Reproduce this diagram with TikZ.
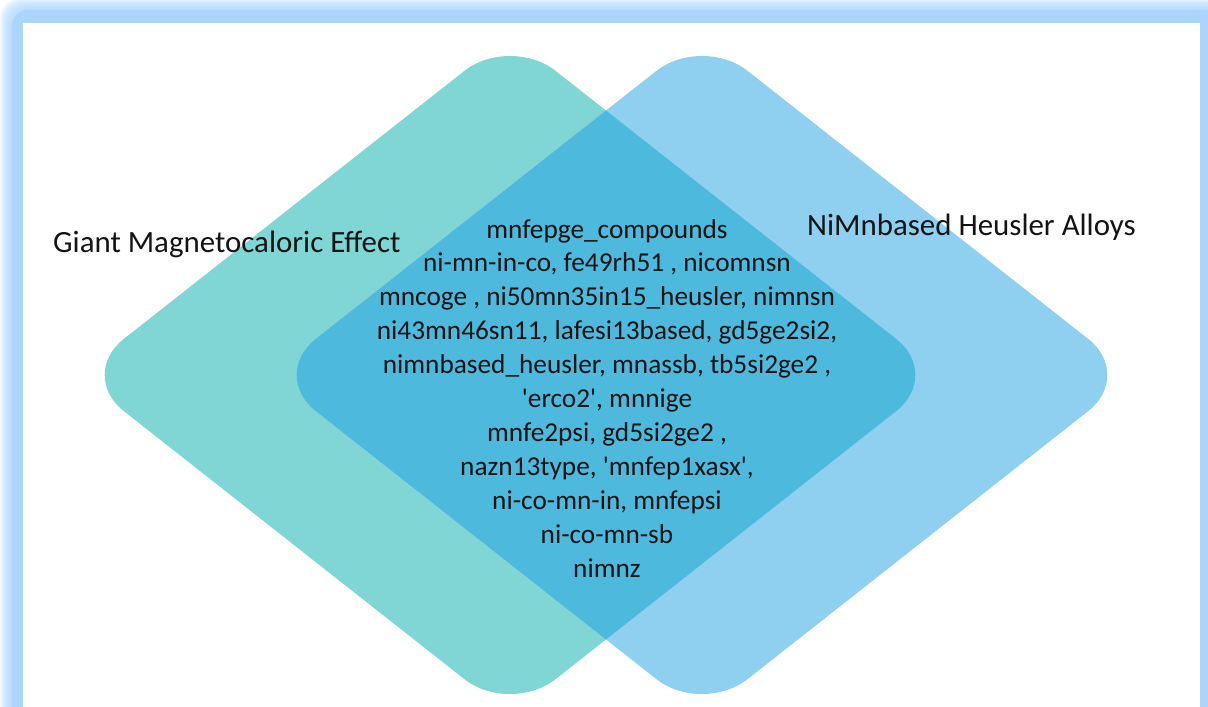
\documentclass[tikz,border=0pt]{standalone}
\usepackage{fontspec}
\setmainfont{Carlito}[Ligatures=TeXOff]
\definecolor{gmeTeal}{HTML}{80D5D5}
\definecolor{nimBlue}{HTML}{8FD0F0}
\definecolor{bothBlue}{HTML}{4DB9DC}
\definecolor{glowBlue}{HTML}{A9D5FF}
\definecolor{inkDark}{HTML}{141414}
\begin{document}
\begin{tikzpicture}[x=1pt,y=-1pt,
  setlabel/.style={inner sep=0pt, text=inkDark, font=\fontsize{30.9}{36}\selectfont},
  core/.style={inner sep=0pt, anchor=base, text=inkDark, font=\fontsize{27.3}{33}\selectfont},
  diamondA/.style={insert path={(510,35) -- (942,375) -- (510,715) -- (78,375) -- cycle}},
  diamondB/.style={insert path={(702,35) -- (1134,375) -- (702,715) -- (270,375) -- cycle}},
  soft/.style={rounded corners=58}]
\useasboundingbox (0,0) rectangle (1208,707);

% glowing frame round the white panel
\begin{scope}
  \clip (0,0) rectangle (1208,707);
  \foreach \k in {12,11,...,1}
    \fill[glowBlue, fill opacity=0.13, rounded corners=20]
      (12-\k,10-\k) rectangle (1220+\k,740+\k);
  \fill[glowBlue, rounded corners=16] (12,10) rectangle (1220,740);
  \fill[white] (23,23) rectangle (1200,740);
\end{scope}

% the two sets and their overlap
\fill[gmeTeal, soft, diamondA];
\fill[nimBlue, soft, diamondB];
\begin{scope}
  \clip[soft, diamondA];
  \fill[bothBlue, soft, diamondB];
\end{scope}

% set labels
\node[setlabel, anchor=base west] (gme) at (53,252) {Giant Magnetocaloric Effect};
\node[setlabel, anchor=base west] (nim) at (807,235) {NiMnbased Heusler Alloys};

% members shared by both sets
\foreach \t [count=\i from 0] in {
  {mnfepge\_compounds},
  {ni-mn-in-co, fe49rh51 , nicomnsn},
  {mncoge , ni50mn35in15\_heusler, nimnsn},
  {ni43mn46sn11, lafesi13based, gd5ge2si2,},
  {nimnbased\_heusler, mnassb, tb5si2ge2 ,},
  {'erco2', mnnige},
  {mnfe2psi, gd5si2ge2 ,},
  {nazn13type, 'mnfep1xasx',},
  {ni-co-mn-in, mnfepsi},
  {ni-co-mn-sb},
  {nimnz}}
  \node[core] (m\i) at (607, 238+33.9*\i) {\t};
\end{tikzpicture}
\end{document}
